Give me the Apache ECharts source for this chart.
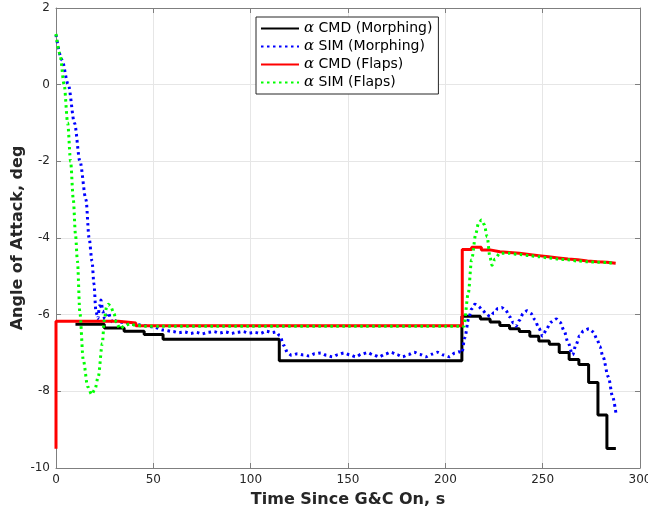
<!DOCTYPE html>
<html>
<head>
<meta charset="utf-8">
<script src="https://cdn.jsdelivr.net/npm/echarts@6/dist/echarts.min.js"></script>
<style>
  html, body { margin: 0; padding: 0; background: #fff; }
  #chart { width: 648px; height: 512px; }
</style>
</head>
<body>
<div id="chart"></div>
<script>
// alpha command, morphing (step changes: time, value)
var cmdMorphT = [10, 24.8, 35, 45.3, 55, 114.7, 208.5, 218, 223, 228, 233, 238, 243.4, 248, 253.4, 258.5, 263.6, 268.6, 273.6, 278.4, 283, 287.6];
var cmdMorphV = [-6.25, -6.35, -6.43, -6.52, -6.64, -7.2, -6.04, -6.11, -6.19, -6.28, -6.37, -6.44, -6.56, -6.69, -6.77, -6.99, -7.17, -7.30, -7.77, -8.62, -9.49, -9.49];

// alpha simulated, morphing
var simMorphT = [0, 3, 6.3, 9.5, 12.3, 15.4, 17, 18.5, 19.5, 20.5, 21.5, 22.3, 23.1, 24, 25, 26, 27, 28, 29, 30, 32, 35, 40, 45, 50, 55,
  60, 63, 66, 69, 72, 75, 78, 81, 84, 87, 90, 93, 96, 99, 102, 105, 108, 111, 113, 115, 117, 119,
  121, 124, 127, 130, 133, 136, 139, 142, 145, 148, 151, 154, 157, 160, 163, 166, 169, 172, 175, 178, 181, 184, 187, 190, 193, 196, 199, 202, 205, 207, 208.5,
  210, 212, 213.5, 215.2, 217, 219, 221, 223, 225, 227, 228.9, 231, 233, 235, 236.3, 238, 240, 242, 244, 246, 248, 250, 252, 254, 257, 259, 261, 263, 265.4,
  267, 269, 271, 273.8, 276, 278, 279.4, 281, 283.7, 286, 287.6];
var simMorphV = [1.3, 0.65, 0, -1, -2, -3, -4, -4.6, -5.2, -5.9, -6.1, -5.8, -5.62, -5.9, -6.12, -6.0, -5.95, -6.1, -6.2, -6.15, -6.2, -6.2, -6.25, -6.28, -6.32, -6.4,
  -6.44, -6.47, -6.45, -6.49, -6.46, -6.50, -6.46, -6.44, -6.48, -6.45, -6.49, -6.46, -6.44, -6.48, -6.46, -6.49, -6.43, -6.47, -6.45, -6.55, -6.8, -7.0,
  -7.06, -7.02, -7.05, -7.08, -7.02, -7.0, -7.06, -7.1, -7.04, -7.0, -7.05, -7.1, -7.03, -6.99, -7.05, -7.1, -7.03, -6.98, -7.04, -7.1, -7.04, -6.98, -7.04, -7.1, -7.03, -6.98, -7.05, -7.1, -7.0, -6.97, -7.0,
  -6.6, -6.1, -5.85, -5.73, -5.78, -5.88, -5.98, -6.05, -5.95, -5.84, -5.81, -5.88, -6.05, -6.22, -6.30, -6.15, -5.97, -5.9, -5.97, -6.13, -6.35, -6.56, -6.38, -6.2, -6.11, -6.2, -6.42, -6.72, -7.05,
  -6.8, -6.55, -6.42, -6.37, -6.45, -6.65, -6.83, -7.1, -7.62, -8.15, -8.56];

// alpha command, flaps (step changes: time, value)
var cmdFlapT = [0, 0, 32, 41, 208.7, 213.5, 218.5, 223, 228, 233, 238, 243, 248, 253, 258, 263, 268, 273, 278, 283, 287.5];
var cmdFlapV = [-9.5, -6.17, -6.22, -6.29, -4.30, -4.24, -4.31, -4.36, -4.38, -4.40, -4.43, -4.46, -4.49, -4.52, -4.55, -4.57, -4.60, -4.62, -4.63, -4.66, -4.66];

// alpha simulated, flaps
var simFlapT = [0, 2, 4.2, 6, 7.5, 8.9, 10, 11, 12.3, 14, 16.3, 18.3, 20, 21.7, 23.8, 24.8, 26, 26.9, 28, 29.8, 31, 32.9, 35, 38, 41, 45, 100, 150, 208.7,
  209.5, 211.8, 213.5, 215.7, 217, 218.6, 220, 221.5, 222.9, 224, 225.5, 228, 233, 238, 243, 248, 253, 258, 263, 268, 273, 278, 283, 287.5];
var simFlapV = [1.32, 0.8, 0, -1.0, -2, -3, -3.9, -4.6, -5.97, -7.18, -7.88, -8.08, -7.95, -7.62, -6.75, -6.14, -5.8, -5.73, -5.78, -5.97, -6.2, -6.37, -6.3, -6.24, -6.28, -6.3, -6.3, -6.3, -6.3,
  -6.3, -5.44, -4.57, -3.88, -3.62, -3.53, -3.65, -3.97, -4.49, -4.71, -4.55, -4.40, -4.40, -4.43, -4.46, -4.49, -4.52, -4.55, -4.57, -4.60, -4.62, -4.63, -4.64, -4.67];

var xTicks = [0, 50, 100, 150, 200, 250, 300];
var yTicks = [-10, -8, -6, -4, -2, 0, 2];

function pairs(t, v) {
  return t.map(function (x, i) { return [x, v[i]]; });
}

var axisGray = '#7f7f7f';
var labelColor = '#262626';
var font = 'DejaVu Sans';

var chart = echarts.init(document.getElementById('chart'), null, { renderer: 'canvas' });

function baseX(show) {
  return {
    type: 'value', min: xTicks[0], max: xTicks[xTicks.length - 1], interval: 50,
    position: show ? 'bottom' : 'top',
    name: show ? 'Time Since G&C On, s' : '',
    nameLocation: 'middle', nameGap: 24, nameMoveOverlap: false,
    nameTextStyle: { fontFamily: font, fontSize: 16, fontWeight: 'bold', color: labelColor },
    axisLine: { show: true, onZero: false, lineStyle: { color: axisGray, width: 1 } },
    axisTick: { show: true, inside: true, length: 5, lineStyle: { color: axisGray } },
    axisLabel: { show: show, fontFamily: font, fontSize: 12, color: labelColor, margin: 6 },
    splitLine: { show: show, lineStyle: { color: '#e6e6e6', width: 1 } }
  };
}
function baseY(show) {
  return {
    type: 'value', min: yTicks[0], max: yTicks[yTicks.length - 1], interval: 2,
    position: show ? 'left' : 'right',
    name: show ? 'Angle of Attack, deg' : '',
    nameLocation: 'middle', nameGap: 30, nameMoveOverlap: false,
    nameTextStyle: { fontFamily: font, fontSize: 16, fontWeight: 'bold', color: labelColor },
    axisLine: { show: true, onZero: false, lineStyle: { color: axisGray, width: 1 } },
    axisTick: { show: true, inside: true, length: 5, lineStyle: { color: axisGray } },
    axisLabel: { show: show, fontFamily: font, fontSize: 12, color: labelColor, margin: 6 },
    splitLine: { show: show, lineStyle: { color: '#e6e6e6', width: 1 } }
  };
}

var option = {
  animation: false,
  backgroundColor: '#fff',
  grid: { left: 56, right: 8, top: 8, bottom: 44, containLabel: false, outerBoundsMode: 'none' },
  legend: {
    left: 256, top: 17, orient: 'vertical',
    backgroundColor: '#fff', borderColor: '#262626', borderWidth: 1, borderRadius: 0,
    padding: [4, 6, 4, 4], itemGap: 3, itemWidth: 38, itemHeight: 14,
    itemStyle: { color: 'rgba(0,0,0,0)', borderWidth: 0 },
    textStyle: { fontFamily: font, fontSize: 14, color: '#000',
      rich: { a: { fontFamily: 'DejaVu Serif', fontStyle: 'italic', fontSize: 15, color: '#000' } } },
    formatter: function (name) { return name.replace('α', '{a|α}'); },
    data: ['α CMD (Morphing)', 'α SIM (Morphing)', 'α CMD (Flaps)', 'α SIM (Flaps)']
  },
  xAxis: [baseX(true), baseX(false)],
  yAxis: [baseY(true), baseY(false)],
  series: [
    { name: 'α CMD (Morphing)', type: 'line', step: 'end', symbol: 'none', data: pairs(cmdMorphT, cmdMorphV),
      lineStyle: { color: '#000', width: 3 }, itemStyle: { color: '#000' } },
    { name: 'α SIM (Morphing)', type: 'line', smooth: 0.3, smoothMonotone: 'x', symbol: 'none', data: pairs(simMorphT, simMorphV),
      lineStyle: { color: '#0000ff', width: 3, type: [2.5, 3.5] }, itemStyle: { color: '#0000ff' } },
    { name: 'α CMD (Flaps)', type: 'line', step: 'end', symbol: 'none', data: pairs(cmdFlapT, cmdFlapV),
      lineStyle: { color: '#ff0000', width: 3 }, itemStyle: { color: '#ff0000' } },
    { name: 'α SIM (Flaps)', type: 'line', smooth: 0.3, smoothMonotone: 'x', symbol: 'none', data: pairs(simFlapT, simFlapV),
      lineStyle: { color: '#00ff00', width: 3, type: [2.5, 3.5] }, itemStyle: { color: '#00ff00' } }
  ]
};

chart.setOption(option);
</script>
</body>
</html>
